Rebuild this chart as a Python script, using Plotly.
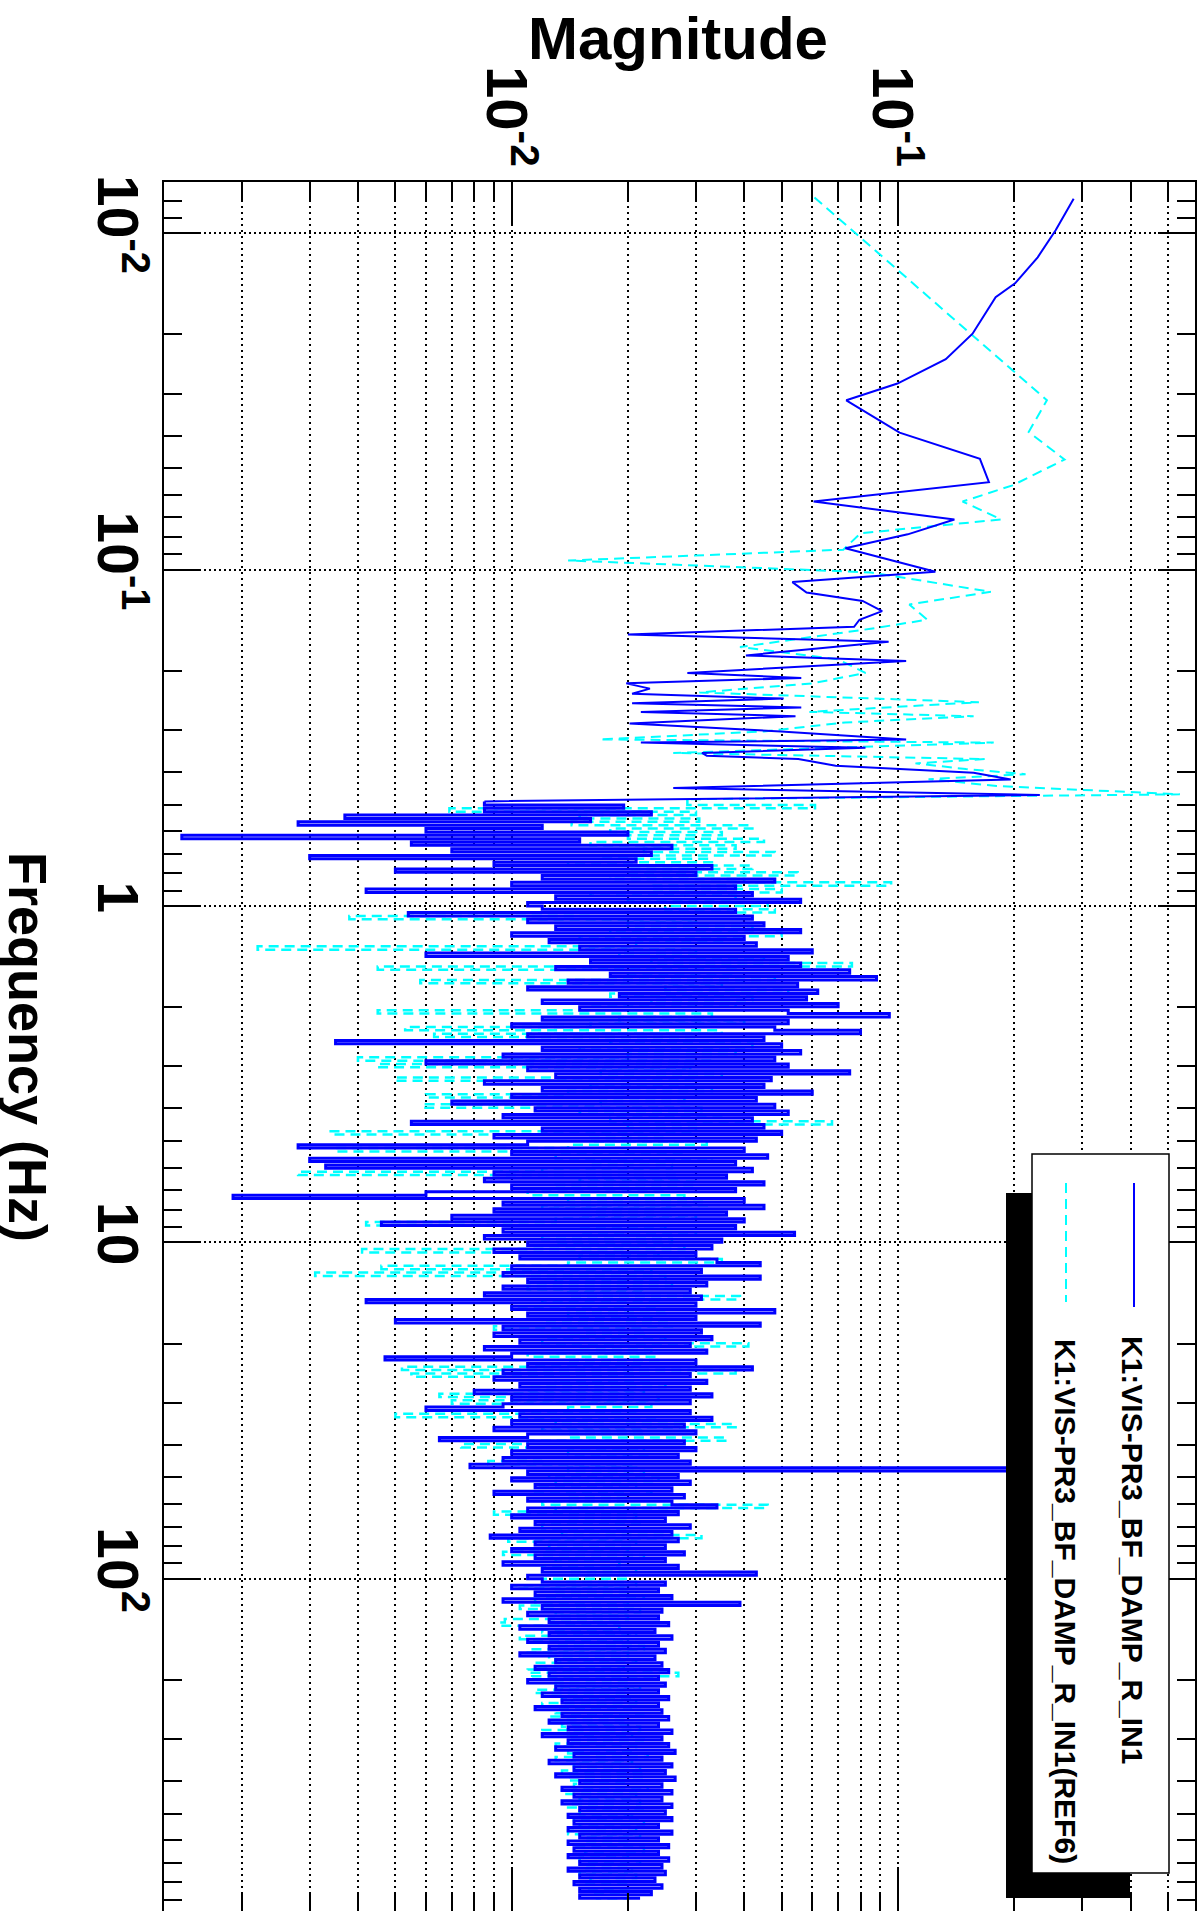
import numpy as np
import plotly.graph_objects as go

# ---------------- data ----------------
# low-frequency part (individual FFT points), Hz / magnitude
blue_low_freq = [0.0079, 0.0098, 0.0118, 0.0141, 0.0155, 0.0199, 0.0237, 0.028, 0.0314, 0.0392,
                 0.0469, 0.055, 0.0628, 0.071, 0.0786, 0.0865, 0.1016, 0.109, 0.117, 0.124,
                 0.133, 0.141, 0.148, 0.156, 0.164, 0.180, 0.187, 0.203, 0.210, 0.218,
                 0.226, 0.234, 0.242, 0.250, 0.257, 0.265, 0.273, 0.287, 0.303, 0.320,
                 0.327, 0.339, 0.351, 0.358, 0.366, 0.383, 0.402, 0.421, 0.446, 0.468, 0.489]
blue_low_mag = [0.285, 0.256, 0.230, 0.201, 0.179, 0.156, 0.133, 0.0997, 0.0735, 0.101,
                0.163, 0.172, 0.0605, 0.140, 0.106, 0.0731, 0.125, 0.0533, 0.058, 0.081,
                0.091, 0.0795, 0.077, 0.020, 0.0946, 0.0404, 0.105, 0.0285, 0.0562, 0.0198,
                0.0228, 0.0205, 0.0506, 0.0205, 0.0562, 0.0216, 0.0543, 0.0202, 0.0498, 0.105,
                0.0216, 0.0824, 0.0311, 0.032, 0.0552, 0.069, 0.157, 0.196, 0.0262, 0.233, 0.0085]

cyan_low_freq = [0.00783, 0.0314, 0.039, 0.0471, 0.0562, 0.0628, 0.071, 0.078, 0.0873, 0.094,
                 0.102, 0.1165, 0.127, 0.141, 0.150, 0.170, 0.185, 0.203, 0.218, 0.232,
                 0.248, 0.265, 0.273, 0.285, 0.303, 0.320, 0.327, 0.351, 0.366, 0.377,
                 0.392, 0.406, 0.420, 0.440, 0.466, 0.482]
cyan_low_mag = [0.0608, 0.243, 0.218, 0.270, 0.198, 0.147, 0.185, 0.080, 0.0722, 0.014,
                0.085, 0.174, 0.107, 0.119, 0.085, 0.039, 0.070, 0.0824, 0.060, 0.0306,
                0.162, 0.059, 0.157, 0.073, 0.045, 0.0169, 0.177, 0.0262, 0.168, 0.111,
                0.150, 0.214, 0.120, 0.180, 0.537, 0.0285]

# dense part: sample frequencies per decade (mantissa table) and decimated magnitudes
freq_mantissa = [1.000, 1.023, 1.047, 1.072, 1.096, 1.122, 1.148, 1.175, 1.202, 1.230,
                 1.259, 1.288, 1.318, 1.349, 1.380, 1.413, 1.445, 1.479, 1.514, 1.549,
                 1.585, 1.622, 1.660, 1.698, 1.738, 1.778, 1.820, 1.862, 1.905, 1.950,
                 1.995, 2.042, 2.089, 2.138, 2.188, 2.239, 2.291, 2.344, 2.399, 2.455,
                 2.512, 2.570, 2.630, 2.692, 2.754, 2.818, 2.884, 2.951, 3.020, 3.090,
                 3.162, 3.236, 3.311, 3.388, 3.467, 3.548, 3.631, 3.715, 3.802, 3.890,
                 3.981, 4.074, 4.169, 4.266, 4.365, 4.467, 4.571, 4.677, 4.786, 4.898,
                 5.012, 5.129, 5.248, 5.370, 5.495, 5.623, 5.754, 5.888, 6.026, 6.166,
                 6.310, 6.457, 6.607, 6.761, 6.918, 7.079, 7.244, 7.413, 7.586, 7.762,
                 7.943, 8.128, 8.318, 8.511, 8.710, 8.913, 9.120, 9.333, 9.550, 9.772]

# magnitudes in units of 1e-4
blue_d0 = [195, 85, 230, 37, 160, 28, 120, 60, 200, 14,
           150, 55, 260, 70, 230, 30, 210, 90, 330, 50,
           300, 120, 480, 100, 380, 42, 420, 130, 560, 110]
blue_d1 = [120, 380, 54, 420, 110, 450, 130, 560, 100, 400,
           125, 430, 150, 600, 60, 520, 160, 560, 130, 750,
           180, 880, 140, 550, 110, 620, 190, 580, 120, 700,
           150, 520, 950, 120, 520, 100, 480, 800, 110, 450,
           35, 500, 120, 560, 95, 480, 60, 520, 110, 750,
           130, 470, 85, 450, 120, 600, 100, 430, 70, 480,
           115, 520, 95, 420, 55, 450, 120, 500, 90, 430,
           110, 28, 400, 100, 460, 30, 380, 33, 420, 90,
           360, 85, 450, 100, 380, 60, 19, 400, 95, 450,
           90, 360, 70, 400, 46, 380, 95, 540, 85, 350]
blue_d2 = [110, 330, 90, 300, 105, 340, 440, 100, 310, 95,
           440, 110, 320, 95, 290, 85, 310, 42, 300, 100,
           480, 110, 300, 50, 440, 95, 310, 90, 330, 105,
           290, 85, 320, 100, 47, 300, 110, 420, 95, 290,
           90, 320, 105, 290, 80, 330, 100, 290, 95, 60,
           290, 105, 330, 100, 280, 90, 300, 110, 65, 280,
           110, 300, 100, 270, 95, 290, 78, 4000, 110, 270,
           100, 290, 115, 260, 90, 280, 110, 260, 340, 110,
           270, 100, 250, 115, 290, 105, 260, 88, 270, 115,
           250, 100, 280, 115, 250, 95, 270, 120, 430, 110]
blue_d3 = [120, 250, 100, 240, 115, 260, 95, 390, 120, 245,
           110, 240, 125, 255, 105, 235, 125, 260, 110, 240,
           125, 250, 105, 235, 130, 245, 115, 255, 125, 240,
           110, 250, 130, 240, 120, 255, 135, 240, 115, 245,
           135, 255, 125, 240, 140, 260, 120, 245, 140, 255,
           130, 265, 145, 245, 125, 260, 145, 250, 130, 265,
           150, 245, 135, 260, 145, 245, 135, 260, 150, 250,
           140, 260, 145, 240, 140, 260, 150, 240, 140, 255,
           145, 240, 140, 255, 150, 245, 140, 250, 150, 235,
           145, 245, 150, 230, 150, 215]

cyan_d0 = [610, 69, 300, 150, 306, 143, 420, 180, 350, 200,
           450, 160, 380, 220, 480, 170, 330, 140, 420, 200,
           550, 180, 400, 960, 230, 500, 160, 380, 200, 460]
cyan_d1 = [250, 480, 160, 38, 300, 200, 420, 180, 500, 150,
           360, 210, 22, 300, 190, 450, 230, 760, 45, 380,
           200, 480, 58, 350, 250, 520, 180, 420, 230, 380,
           160, 45, 330, 190, 400, 160, 53, 350, 63, 300,
           180, 420, 150, 380, 200, 40, 330, 45, 290, 170,
           350, 50, 300, 160, 330, 140, 60, 280, 170, 59,
           310, 150, 360, 180, 675, 200, 300, 34, 250, 160,
           320, 140, 35, 280, 130, 330, 160, 260, 120, 28,
           270, 150, 300, 130, 250, 110, 280, 140, 320, 120,
           260, 150, 300, 130, 42, 250, 150, 300, 120, 260]
cyan_d2 = [130, 280, 41, 240, 150, 350, 140, 46, 230, 31,
           250, 130, 260, 110, 220, 140, 390, 120, 240, 100,
           250, 140, 230, 120, 260, 90, 220, 140, 250, 120,
           410, 150, 230, 110, 240, 140, 220, 52, 380, 55,
           230, 130, 250, 110, 220, 65, 240, 70, 230, 140,
           210, 50, 240, 130, 380, 120, 220, 140, 360, 110,
           74, 220, 140, 230, 120, 87, 210, 140, 220, 125,
           240, 130, 210, 115, 230, 140, 200, 120, 460, 130,
           90, 210, 140, 220, 120, 200, 135, 310, 98, 210,
           125, 200, 95, 220, 130, 190, 120, 210, 140, 200]
cyan_d3 = [120, 210, 100, 200, 130, 220, 115, 200, 105, 215,
           130, 200, 96, 93, 190, 120, 210, 105, 200, 130,
           220, 110, 200, 125, 210, 115, 195, 110, 270, 113,
           200, 130, 215, 115, 200, 135, 210, 120, 205, 130,
           220, 125, 200, 135, 215, 120, 205, 140, 220, 130,
           210, 140, 225, 130, 205, 145, 215, 135, 220, 140,
           200, 145, 225, 135, 210, 150, 215, 140, 220, 150,
           205, 145, 220, 150, 210, 140, 215, 155, 205, 145,
           220, 155, 200, 150, 215, 156, 205, 150, 210, 160,
           200, 155, 205, 160, 200, 165]

freq_ticks = [0.01, 0.1, 1, 10, 100]
freq_ticktext = ["10<sup>-2</sup>", "10<sup>-1</sup>", "1", "10", "10<sup>2</sup>"]
freq_minor = [0.008, 0.009,
              0.02, 0.03, 0.04, 0.05, 0.06, 0.07, 0.08, 0.09,
              0.2, 0.3, 0.4, 0.5, 0.6, 0.7, 0.8, 0.9,
              2, 3, 4, 5, 6, 7, 8, 9,
              20, 30, 40, 50, 60, 70, 80, 90,
              200, 300, 400, 500, 600, 700, 800, 900]
mag_ticks = [0.01, 0.1]
mag_ticktext = ["10<sup>-2</sup>", "10<sup>-1</sup>"]
mag_minor = [0.002, 0.003, 0.004, 0.005, 0.006, 0.007, 0.008, 0.009,
             0.02, 0.03, 0.04, 0.05, 0.06, 0.07, 0.08, 0.09,
             0.2, 0.3, 0.4, 0.5]

name_blue = "K1:VIS-PR3_BF_DAMP_R_IN1"
name_cyan = "K1:VIS-PR3_BF_DAMP_R_IN1(REF6)"

# ---------------- build ----------------
for lst, n in [(blue_d0, 30), (blue_d1, 100), (blue_d2, 100), (blue_d3, 96),
               (cyan_d0, 30), (cyan_d1, 100), (cyan_d2, 100), (cyan_d3, 96)]:
    assert len(lst) == n, (n, len(lst))

mant = np.array(freq_mantissa)
freq_dense = np.concatenate([0.1 * mant[70:], 1.0 * mant, 10.0 * mant, 100.0 * mant[:96]])
blue_dense = np.array(blue_d0 + blue_d1 + blue_d2 + blue_d3) * 1e-4
cyan_dense = np.array(cyan_d0 + cyan_d1 + cyan_d2 + cyan_d3) * 1e-4

BLUE = "#0000ff"
CYAN = "#00ffff"
FONT = "Liberation Sans, Arial, Helvetica, sans-serif"

fig = go.Figure()
# reference (cyan, dashed) first, then live trace (blue) on top
fig.add_trace(go.Scatter(x=cyan_low_mag, y=cyan_low_freq, mode="lines",
                         line=dict(color=CYAN, width=2, dash="10px,6px"),
                         showlegend=False, hoverinfo="skip"))
fig.add_trace(go.Scatter(x=np.concatenate([[cyan_low_mag[-1]], cyan_dense]),
                         y=np.concatenate([[cyan_low_freq[-1]], freq_dense]),
                         mode="lines", line=dict(color=CYAN, width=2.5, dash="10px,6px", shape="vh"),
                         showlegend=False, hoverinfo="skip"))
fig.add_trace(go.Scatter(x=blue_low_mag, y=blue_low_freq, mode="lines",
                         line=dict(color=BLUE, width=2),
                         showlegend=False, hoverinfo="skip"))
fig.add_trace(go.Scatter(x=np.concatenate([[blue_low_mag[-1]], blue_dense]),
                         y=np.concatenate([[blue_low_freq[-1]], freq_dense]),
                         mode="lines", line=dict(color=BLUE, width=3, shape="vh"),
                         showlegend=False, hoverinfo="skip"))

W_FIG, H_FIG = 1201, 1911
L, R, T, B = 164, 1195, 182, 1911


def px(x):
    return (x - L) / (R - L)


def py(y):
    return (B - y) / (B - T)


fig.update_layout(
    width=W_FIG, height=H_FIG,
    margin=dict(l=L, r=W_FIG - R, t=T, b=H_FIG - B, pad=0, autoexpand=False),
    paper_bgcolor="white", plot_bgcolor="white",
    showlegend=False,
    font=dict(family=FONT, color="black"),
)

fig.update_xaxes(
    type="log", range=[-2.90, -0.231], side="top", automargin=False,
    showline=True, linecolor="black", linewidth=2, mirror="allticks",
    ticks="inside", ticklen=44, tickwidth=2, tickcolor="black",
    tickvals=mag_ticks, ticktext=["<b>" + t + "</b>" for t in mag_ticktext],
    tickangle=90, tickfont=dict(size=58, family=FONT, color="black"),
    ticklabelstandoff=-7, ticklabelshift=-6,
    showgrid=True, gridcolor="black", griddash="2px,4px", gridwidth=1.6,
    minor=dict(tickvals=mag_minor, ticks="inside", ticklen=18, tickwidth=2, tickcolor="black",
               showgrid=True, gridcolor="black", griddash="2px,4px", gridwidth=1.6),
    zeroline=False,
)
fig.update_yaxes(
    type="log", range=[2.988, -2.152], automargin=False,
    showline=True, linecolor="black", linewidth=2, mirror="allticks",
    ticks="inside", ticklen=37, tickwidth=2, tickcolor="black",
    tickvals=freq_ticks, ticktext=["<b>" + t + "</b>" for t in freq_ticktext],
    tickangle=90, tickfont=dict(size=57, family=FONT, color="black"),
    ticklabelstandoff=-4,
    showgrid=True, gridcolor="black", griddash="2px,3px", gridwidth=1.6,
    minor=dict(tickvals=freq_minor, ticks="inside", ticklen=18, tickwidth=2, tickcolor="black",
               showgrid=False),
    zeroline=False,
)

# axis titles
fig.add_annotation(text="<b>Magnitude</b>", xref="paper", yref="paper",
                   x=px(678), y=py(38), showarrow=False, xanchor="center", yanchor="middle",
                   font=dict(size=60, family=FONT, color="black"))
fig.add_annotation(text="<b>Frequency (Hz)</b>", xref="paper", yref="paper",
                   x=px(28), y=py(1047), showarrow=False, textangle=90,
                   xanchor="center", yanchor="middle",
                   font=dict(size=54, family=FONT, color="black"))

# ROOT-style legend (rotated) with shadow
fig.add_shape(type="rect", xref="paper", yref="paper", layer="above",
              x0=px(1006), x1=px(1130), y0=py(1898), y1=py(1193),
              fillcolor="black", line=dict(width=0))
fig.add_shape(type="rect", xref="paper", yref="paper", layer="above",
              x0=px(1032), x1=px(1169), y0=py(1873), y1=py(1154),
              fillcolor="white", line=dict(color="black", width=1.5))
fig.add_shape(type="line", xref="paper", yref="paper", layer="above",
              x0=px(1134), x1=px(1134), y0=py(1183), y1=py(1307),
              line=dict(color=BLUE, width=2))
fig.add_shape(type="line", xref="paper", yref="paper", layer="above",
              x0=px(1066), x1=px(1066), y0=py(1183), y1=py(1302),
              line=dict(color=CYAN, width=2, dash="10px,6px"))
fig.add_annotation(text="<b>" + name_blue + "</b>", xref="paper", yref="paper",
                   x=px(1133), y=py(1550), showarrow=False, textangle=90,
                   xanchor="center", yanchor="middle",
                   font=dict(size=30, family=FONT, color="black"))
fig.add_annotation(text="<b>" + name_cyan + "</b>", xref="paper", yref="paper",
                   x=px(1066), y=py(1601), showarrow=False, textangle=90,
                   xanchor="center", yanchor="middle",
                   font=dict(size=30, family=FONT, color="black"))

fig.write_html("out.html", config={"displayModeBar": False},
               post_script="document.body.style.margin='0';document.body.style.padding='0';")
